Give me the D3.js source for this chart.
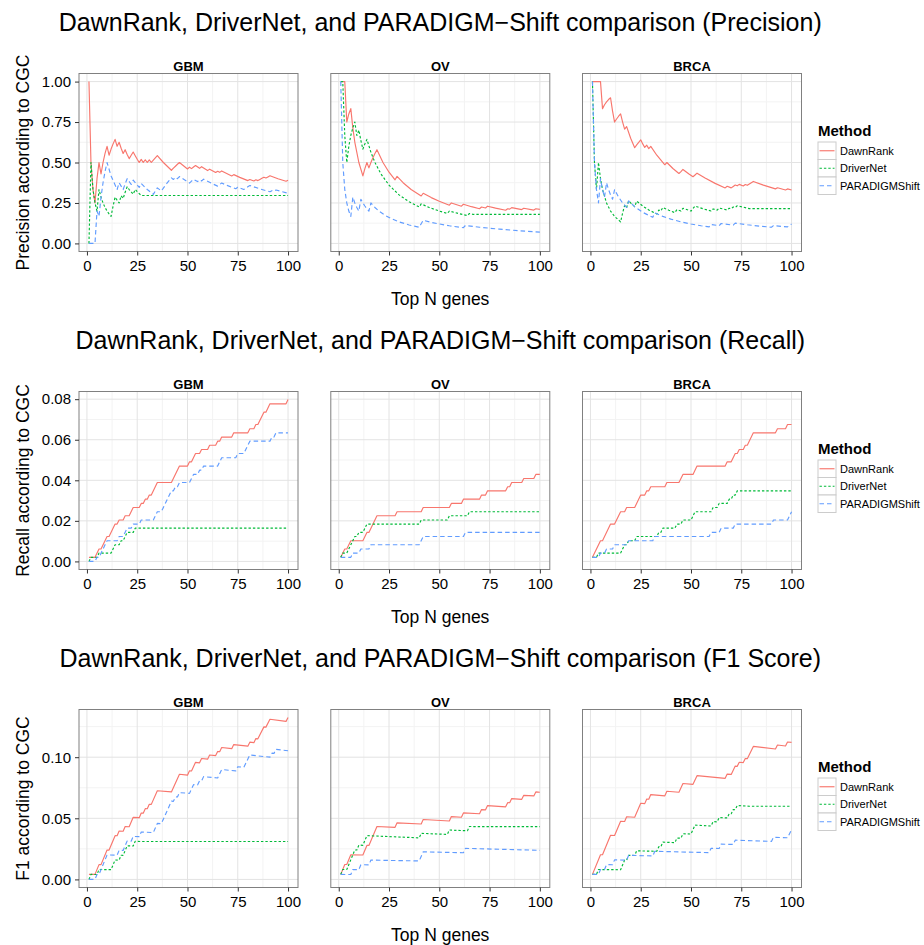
<!DOCTYPE html>
<html><head><meta charset="utf-8">
<script src="https://cdn.jsdelivr.net/npm/d3@7"></script>
<style>
body{margin:0;background:#fff}
svg text{font-family:"Liberation Sans",Arial,Helvetica,sans-serif}
</style>
</head><body>
<svg id="chart" width="924" height="945"></svg>
<script>
// ---------- categories & labels ----------
const cancers = ["GBM","OV","BRCA"];
const methods = ["DawnRank","DriverNet","PARADIGMShift"];
const metrics = ["Precision","Recall","F1 Score"];
const yTitles = ["Precision according to CGC","Recall according to CGC","F1 according to CGC"];
const xTitle = "Top N genes";
const xTicks = [0,25,50,75,100];
const xTickLabels = ["0","25","50","75","100"];
const precisionTicks = [0,0.25,0.5,0.75,1];
const precisionTickLabels = ["0.00","0.25","0.50","0.75","1.00"];
const recallTicks = [0,0.02,0.04,0.06,0.08];
const recallTickLabels = ["0.00","0.02","0.04","0.06","0.08"];
const f1Ticks = [0,0.05,0.10];
const f1TickLabels = ["0.00","0.05","0.10"];

// ---------- series values: [top N, value] ----------
// Precision
const precisionGBMDawnRank = [[1,1.000],[2,0.500],[3,0.333],[4,0.250],[5,0.400],[6,0.500],[7,0.429],[8,0.500],[9,0.556],[10,0.600],[11,0.545],[12,0.583],[13,0.615],[14,0.643],[15,0.600],[16,0.625],[17,0.588],[18,0.556],[19,0.579],[20,0.550],[21,0.524],[22,0.545],[23,0.565],[24,0.542],[25,0.520],[26,0.500],[27,0.519],[28,0.500],[29,0.517],[30,0.500],[31,0.516],[32,0.500],[33,0.515],[34,0.529],[35,0.543],[38,0.500],[42,0.452],[43,0.465],[44,0.477],[45,0.489],[46,0.500],[50,0.460],[51,0.471],[52,0.462],[53,0.472],[54,0.481],[56,0.464],[57,0.474],[60,0.450],[61,0.459],[64,0.438],[65,0.446],[66,0.439],[67,0.448],[72,0.417],[73,0.425],[76,0.408],[80,0.388],[81,0.395],[83,0.386],[84,0.393],[85,0.388],[86,0.395],[87,0.402],[88,0.409],[89,0.404],[90,0.411],[91,0.418],[95,0.400],[99,0.384],[100,0.390]];
const precisionGBMDriverNet = [[1,0],[2,0.5],[3,0.333],[4,0.25],[5,0.2],[6,0.333],[7,0.286],[8,0.25],[9,0.222],[10,0.2],[11,0.182],[12,0.167],[13,0.231],[14,0.286],[15,0.267],[16,0.25],[17,0.294],[18,0.278],[19,0.316],[20,0.35],[21,0.333],[22,0.318],[23,0.304],[24,0.333],[25,0.32],[26,0.308],[27,0.296],[100,0.296]];
const precisionGBMPARADIGMShift = [[1,0],[4,0],[5,0.2],[6,0.167],[7,0.286],[8,0.375],[9,0.444],[10,0.5],[12,0.417],[15,0.333],[16,0.375],[18,0.333],[19,0.368],[20,0.4],[22,0.364],[23,0.391],[26,0.346],[27,0.37],[30,0.333],[33,0.303],[34,0.324],[35,0.343],[37,0.324],[38,0.342],[39,0.359],[40,0.375],[41,0.39],[42,0.405],[43,0.395],[44,0.409],[45,0.4],[46,0.413],[51,0.373],[52,0.385],[53,0.396],[55,0.382],[56,0.393],[57,0.386],[58,0.397],[62,0.371],[65,0.354],[66,0.364],[67,0.373],[70,0.357],[74,0.338],[75,0.347],[78,0.333],[79,0.342],[80,0.35],[81,0.358],[86,0.337],[91,0.319],[92,0.326],[93,0.323],[94,0.33],[97,0.32],[100,0.31]];
const precisionOVDawnRank = [[1,1],[3,1],[4,0.75],[5,0.8],[6,0.833],[7,0.714],[8,0.625],[10,0.5],[12,0.417],[13,0.462],[14,0.5],[15,0.467],[16,0.5],[17,0.529],[18,0.556],[19,0.579],[22,0.5],[25,0.44],[28,0.393],[29,0.414],[32,0.375],[36,0.333],[41,0.293],[42,0.31],[46,0.283],[50,0.26],[55,0.236],[56,0.25],[61,0.23],[62,0.242],[66,0.227],[70,0.214],[71,0.225],[73,0.219],[74,0.23],[78,0.218],[83,0.205],[84,0.214],[85,0.212],[86,0.221],[91,0.209],[92,0.217],[97,0.206],[98,0.214],[100,0.21]];
const precisionOVDriverNet = [[1,1],[2,1],[3,0.667],[4,0.5],[5,0.6],[6,0.667],[7,0.714],[8,0.75],[9,0.667],[10,0.7],[11,0.636],[12,0.583],[13,0.615],[14,0.643],[16,0.563],[18,0.5],[21,0.429],[25,0.36],[30,0.3],[35,0.257],[40,0.225],[41,0.244],[45,0.222],[50,0.2],[54,0.185],[55,0.2],[60,0.183],[64,0.172],[65,0.185],[67,0.179],[100,0.179]];
const precisionOVPARADIGMShift = [[1,1],[2,0.5],[3,0.333],[4,0.25],[5,0.2],[6,0.167],[7,0.286],[8,0.25],[9,0.222],[10,0.2],[11,0.273],[12,0.25],[13,0.231],[14,0.214],[15,0.2],[16,0.25],[18,0.222],[20,0.2],[23,0.174],[26,0.154],[30,0.133],[35,0.114],[40,0.1],[41,0.122],[42,0.143],[46,0.13],[50,0.12],[55,0.109],[62,0.097],[63,0.111],[70,0.1],[80,0.088],[90,0.078],[100,0.07]];
const precisionBRCADawnRank = [[1,1],[5,1],[6,0.833],[7,0.857],[8,0.875],[9,0.889],[10,0.9],[11,0.818],[12,0.75],[13,0.769],[14,0.786],[15,0.8],[16,0.75],[17,0.706],[18,0.722],[20,0.65],[22,0.591],[23,0.609],[24,0.625],[25,0.64],[26,0.615],[27,0.593],[28,0.607],[29,0.586],[30,0.6],[33,0.545],[37,0.486],[38,0.5],[41,0.463],[44,0.432],[45,0.444],[46,0.457],[49,0.429],[51,0.412],[52,0.423],[53,0.434],[57,0.404],[62,0.371],[67,0.343],[68,0.353],[70,0.343],[71,0.352],[72,0.361],[73,0.356],[74,0.365],[76,0.355],[77,0.364],[78,0.359],[79,0.367],[80,0.375],[81,0.383],[86,0.36],[92,0.337],[93,0.344],[97,0.33],[98,0.337],[100,0.33]];
const precisionBRCADriverNet = [[1,1],[2,0.5],[3,0.333],[4,0.5],[5,0.4],[6,0.333],[8,0.25],[10,0.2],[12,0.167],[15,0.133],[16,0.188],[17,0.235],[18,0.222],[19,0.263],[20,0.25],[22,0.227],[23,0.261],[26,0.231],[29,0.207],[33,0.182],[34,0.206],[35,0.2],[36,0.222],[39,0.205],[42,0.19],[43,0.209],[45,0.2],[46,0.217],[50,0.2],[51,0.216],[52,0.231],[56,0.214],[60,0.2],[61,0.213],[63,0.206],[64,0.219],[68,0.206],[69,0.217],[70,0.214],[71,0.225],[72,0.222],[73,0.233],[76,0.224],[79,0.215],[100,0.215]];
const precisionBRCAPARADIGMShift = [[1,1],[2,0.5],[3,0.333],[4,0.25],[5,0.4],[6,0.333],[7,0.286],[8,0.375],[9,0.333],[10,0.3],[11,0.273],[12,0.333],[14,0.286],[16,0.25],[18,0.222],[19,0.263],[22,0.227],[26,0.192],[31,0.161],[32,0.188],[36,0.167],[40,0.15],[45,0.133],[50,0.12],[55,0.109],[59,0.102],[60,0.117],[64,0.109],[65,0.123],[71,0.113],[72,0.125],[78,0.115],[84,0.107],[90,0.1],[91,0.11],[95,0.105],[98,0.102],[99,0.111],[100,0.12]];

// Recall
const recallGBMDawnRank = [[1,.0020],[4,.0020],[6,.0061],[7,.0061],[10,.0123],[11,.0123],[14,.0184],[15,.0184],[16,.0204],[18,.0204],[19,.0225],[21,.0225],[23,.0266],[26,.0266],[27,.0286],[28,.0286],[29,.0307],[30,.0307],[31,.0327],[32,.0327],[35,.0389],[42,.0389],[46,.0470],[50,.0470],[51,.0491],[52,.0491],[54,.0532],[56,.0532],[57,.0552],[60,.0552],[61,.0573],[64,.0573],[65,.0593],[66,.0593],[67,.0613],[72,.0613],[73,.0634],[80,.0634],[81,.0654],[83,.0654],[84,.0675],[85,.0675],[88,.0736],[89,.0736],[91,.0777],[99,.0777],[100,.0798]];
const recallGBMDriverNet = [[1,0],[2,.0020],[5,.0020],[6,.0041],[12,.0041],[14,.0082],[16,.0082],[17,.0102],[18,.0102],[20,.0143],[23,.0143],[24,.0164],[100,.0164]];
const recallGBMPARADIGMShift = [[1,0],[4,0],[5,.0020],[6,.0020],[10,.0102],[15,.0102],[16,.0123],[18,.0123],[20,.0164],[22,.0164],[23,.0184],[26,.0184],[27,.0204],[33,.0204],[35,.0245],[37,.0245],[42,.0348],[43,.0348],[44,.0368],[45,.0368],[46,.0389],[51,.0389],[53,.0429],[55,.0429],[56,.0450],[57,.0450],[58,.0470],[65,.0470],[67,.0511],[74,.0511],[75,.0532],[78,.0532],[81,.0593],[91,.0593],[92,.0613],[93,.0613],[94,.0634],[100,.0634]];
const recallOVDawnRank = [[1,.0020],[3,.0061],[4,.0061],[6,.0102],[12,.0102],[14,.0143],[15,.0143],[19,.0225],[28,.0225],[29,.0245],[41,.0245],[42,.0266],[55,.0266],[56,.0286],[61,.0286],[62,.0307],[70,.0307],[71,.0327],[73,.0327],[74,.0348],[83,.0348],[84,.0368],[85,.0368],[86,.0389],[91,.0389],[92,.0409],[97,.0409],[98,.0429],[100,.0429]];
const recallOVDriverNet = [[1,.0020],[2,.0041],[4,.0041],[8,.0123],[9,.0123],[10,.0143],[12,.0143],[14,.0184],[40,.0184],[41,.0204],[54,.0204],[55,.0225],[64,.0225],[65,.0245],[100,.0245]];
const recallOVPARADIGMShift = [[1,.0020],[6,.0020],[7,.0041],[10,.0041],[11,.0061],[15,.0061],[16,.0082],[40,.0082],[42,.0123],[62,.0123],[63,.0143],[100,.0143]];
const recallBRCADawnRank = [[1,.0020],[5,.0102],[6,.0102],[10,.0184],[12,.0184],[15,.0245],[17,.0245],[18,.0266],[22,.0266],[25,.0327],[27,.0327],[28,.0348],[29,.0348],[30,.0368],[37,.0368],[38,.0389],[44,.0389],[46,.0429],[51,.0429],[53,.0470],[67,.0470],[68,.0491],[70,.0491],[72,.0532],[73,.0532],[74,.0552],[76,.0552],[77,.0573],[78,.0573],[81,.0634],[92,.0634],[93,.0654],[97,.0654],[98,.0675],[100,.0675]];
const recallBRCADriverNet = [[1,.0020],[3,.0020],[4,.0041],[15,.0041],[17,.0082],[18,.0082],[19,.0102],[22,.0102],[23,.0123],[33,.0123],[34,.0143],[35,.0143],[36,.0164],[42,.0164],[43,.0184],[45,.0184],[46,.0204],[50,.0204],[52,.0245],[60,.0245],[61,.0266],[63,.0266],[64,.0286],[68,.0286],[69,.0307],[70,.0307],[71,.0327],[72,.0327],[73,.0348],[100,.0348]];
const recallBRCAPARADIGMShift = [[1,.0020],[4,.0020],[5,.0041],[7,.0041],[8,.0061],[11,.0061],[12,.0082],[18,.0082],[19,.0102],[31,.0102],[32,.0123],[59,.0123],[60,.0143],[64,.0143],[65,.0164],[71,.0164],[72,.0184],[90,.0184],[91,.0204],[98,.0204],[100,.0245]];

// F1 score
const f1GBMDawnRank = [[1,.0041],[4,.0041],[6,.0121],[7,.0121],[10,.0240],[11,.0240],[14,.0358],[15,.0357],[16,.0396],[18,.0394],[19,.0433],[21,.0431],[23,.0508],[26,.0505],[27,.0543],[28,.0542],[29,.0579],[30,.0578],[31,.0615],[32,.0614],[35,.0725],[42,.0716],[46,.0860],[50,.0853],[51,.0889],[52,.0887],[54,.0958],[56,.0954],[57,.0989],[60,.0984],[61,.1018],[64,.1013],[65,.1047],[66,.1045],[67,.1079],[72,.1070],[73,.1103],[80,.1090],[81,.1123],[83,.1119],[84,.1152],[85,.1150],[88,.1248],[89,.1246],[91,.1310],[99,.1293],[100,.1324]];
const f1GBMDriverNet = [[1,0],[2,.0041],[5,.0040],[6,.0081],[12,.0080],[14,.0159],[16,.0158],[17,.0198],[18,.0197],[20,.0275],[23,.0273],[24,.0312],[27,.0310],[100,.0310]];
const f1GBMPARADIGMShift = [[1,0],[4,0],[5,.0040],[6,.0040],[10,.0200],[15,.0198],[16,.0238],[18,.0237],[20,.0314],[22,.0313],[23,.0352],[26,.0350],[27,.0388],[33,.0383],[35,.0458],[37,.0456],[42,.0640],[43,.0639],[44,.0675],[45,.0674],[46,.0710],[51,.0704],[53,.0775],[55,.0772],[56,.0807],[57,.0806],[58,.0841],[65,.0830],[67,.0899],[74,.0888],[75,.0922],[78,.0917],[81,.1018],[91,.1000],[92,.1033],[93,.1031],[94,.1064],[100,.1053]];
const f1OVDawnRank = [[1,.0041],[3,.0122],[4,.0122],[6,.0202],[12,.0200],[14,.0278],[15,.0278],[19,.0433],[28,.0426],[29,.0463],[41,.0453],[42,.0490],[55,.0478],[56,.0514],[61,.0509],[62,.0544],[70,.0537],[71,.0571],[73,.0569],[74,.0604],[83,.0594],[84,.0628],[85,.0627],[86,.0661],[91,.0655],[92,.0688],[97,.0683],[98,.0716],[100,.0713]];
const f1OVDriverNet = [[1,.0041],[2,.0081],[4,.0081],[8,.0241],[9,.0241],[10,.0281],[12,.0279],[14,.0358],[40,.0340],[41,.0377],[54,.0368],[55,.0404],[64,.0398],[65,.0433],[67,.0432],[100,.0432]];
const f1OVPARADIGMShift = [[1,.0041],[6,.0040],[7,.0081],[10,.0080],[11,.0120],[15,.0119],[16,.0158],[40,.0151],[42,.0226],[62,.0218],[63,.0254],[100,.0238]];
const f1BRCADawnRank = [[1,.0041],[5,.0202],[6,.0202],[10,.0361],[12,.0359],[15,.0476],[17,.0474],[18,.0513],[22,.0509],[25,.0623],[27,.0620],[28,.0658],[29,.0656],[30,.0694],[37,.0684],[38,.0721],[44,.0713],[46,.0785],[51,.0778],[53,.0849],[67,.0827],[68,.0862],[70,.0859],[72,.0927],[73,.0925],[74,.0959],[76,.0956],[77,.0989],[78,.0988],[81,.1088],[92,.1067],[93,.1100],[97,.1092],[98,.1124],[100,.1121]];
const f1BRCADriverNet = [[1,.0041],[3,.0041],[4,.0081],[15,.0079],[17,.0158],[18,.0158],[19,.0197],[22,.0196],[23,.0234],[33,.0230],[34,.0268],[35,.0267],[36,.0305],[42,.0301],[43,.0338],[45,.0337],[46,.0374],[50,.0371],[52,.0444],[60,.0437],[61,.0473],[63,.0471],[64,.0506],[68,.0503],[69,.0538],[70,.0537],[71,.0571],[72,.0570],[73,.0605],[79,.0599],[100,.0599]];
const f1BRCAPARADIGMShift = [[1,.0041],[4,.0041],[5,.0081],[7,.0081],[8,.0121],[11,.0120],[12,.0160],[18,.0158],[19,.0197],[31,.0192],[32,.0230],[59,.0219],[60,.0255],[64,.0253],[65,.0289],[71,.0286],[72,.0321],[90,.0311],[91,.0345],[98,.0341],[100,.0408]];

// ---------- lookup table built from the arrays ----------
const seriesTable = [
  { GBM:{DawnRank:precisionGBMDawnRank,DriverNet:precisionGBMDriverNet,PARADIGMShift:precisionGBMPARADIGMShift},
    OV:{DawnRank:precisionOVDawnRank,DriverNet:precisionOVDriverNet,PARADIGMShift:precisionOVPARADIGMShift},
    BRCA:{DawnRank:precisionBRCADawnRank,DriverNet:precisionBRCADriverNet,PARADIGMShift:precisionBRCAPARADIGMShift} },
  { GBM:{DawnRank:recallGBMDawnRank,DriverNet:recallGBMDriverNet,PARADIGMShift:recallGBMPARADIGMShift},
    OV:{DawnRank:recallOVDawnRank,DriverNet:recallOVDriverNet,PARADIGMShift:recallOVPARADIGMShift},
    BRCA:{DawnRank:recallBRCADawnRank,DriverNet:recallBRCADriverNet,PARADIGMShift:recallBRCAPARADIGMShift} },
  { GBM:{DawnRank:f1GBMDawnRank,DriverNet:f1GBMDriverNet,PARADIGMShift:f1GBMPARADIGMShift},
    OV:{DawnRank:f1OVDawnRank,DriverNet:f1OVDriverNet,PARADIGMShift:f1OVPARADIGMShift},
    BRCA:{DawnRank:f1BRCADawnRank,DriverNet:f1BRCADriverNet,PARADIGMShift:f1BRCAPARADIGMShift} }
];
const rowTicks = [precisionTicks, recallTicks, f1Ticks];
const rowTickLabels = [precisionTickLabels, recallTickLabels, f1TickLabels];

// ---------- styles ----------
const colors = {DawnRank:"#F8766D", DriverNet:"#00BA38", PARADIGMShift:"#619CFF"};
const dashes = {DawnRank:null, DriverNet:"2.4,2", PARADIGMShift:"4.5,3"};

// ---------- layout ----------
const svg = d3.select("#chart");
const panelLefts = [79, 330.8, 582.5];
const panelW = 219, panelH = 178, panelTop = 73.5;
const rowOffsets = [0, 318, 636];
const centerX = (panelLefts[0] + panelLefts[2] + panelW) / 2;

const x = d3.scaleLinear().domain([1 - 0.05*99, 100 + 0.05*99]).range([0, panelW]);

metrics.forEach((metric, r) => {
  const g = svg.append("g").attr("transform", `translate(0,${rowOffsets[r]})`);
  const tbl = seriesTable[r];
  const allVals = [];
  cancers.forEach(c => methods.forEach(m => tbl[c][m].forEach(d => allVals.push(d[1]))));
  const lo = d3.min(allVals), hi = d3.max(allVals), span = hi - lo;
  const y = d3.scaleLinear().domain([lo - 0.05*span, hi + 0.05*span]).range([panelH, 0]);
  const ticks = rowTicks[r], labels = rowTickLabels[r];
  const step = ticks[1] - ticks[0];
  const yMinor = [];
  for (let i = 0; i < ticks.length; i++) {
    const v = ticks[i] + step/2;
    if (v >= y.domain()[0] && v <= y.domain()[1]) yMinor.push(v);
  }
  const xMinor = xTicks.slice(0, -1).map((t, i) => (t + xTicks[i+1]) / 2);

  // main title
  g.append("text").attr("x", centerX).attr("y", 31).attr("text-anchor", "middle")
    .attr("font-size", "25px").attr("fill", "#000")
    .text(`DawnRank, DriverNet, and PARADIGM\u2212Shift comparison (${metric})`);

  // y title
  g.append("text").attr("transform", `translate(29,${panelTop + panelH/2}) rotate(-90)`)
    .attr("text-anchor", "middle").attr("font-size", "17.5px").attr("fill", "#000")
    .text(yTitles[r]);

  // x title
  g.append("text").attr("x", centerX).attr("y", 305).attr("text-anchor", "middle")
    .attr("font-size", "17.5px").attr("fill", "#000").text(xTitle);

  const line = d3.line().x(d => x(d[0])).y(d => y(d[1]));

  cancers.forEach((c, i) => {
    const p = g.append("g").attr("transform", `translate(${panelLefts[i]},${panelTop})`);
    p.append("rect").attr("width", panelW).attr("height", panelH).attr("fill", "#fff");
    // minor grid
    p.selectAll(".xmin").data(xMinor).enter().append("line")
      .attr("x1", d => x(d)).attr("x2", d => x(d)).attr("y1", 0).attr("y2", panelH)
      .attr("stroke", "#f3f3f3").attr("stroke-width", 1);
    p.selectAll(".ymin").data(yMinor).enter().append("line")
      .attr("y1", d => y(d)).attr("y2", d => y(d)).attr("x1", 0).attr("x2", panelW)
      .attr("stroke", "#f3f3f3").attr("stroke-width", 1);
    // major grid
    p.selectAll(".xmaj").data(xTicks).enter().append("line")
      .attr("x1", d => x(d)).attr("x2", d => x(d)).attr("y1", 0).attr("y2", panelH)
      .attr("stroke", "#e3e3e3").attr("stroke-width", 1);
    p.selectAll(".ymaj").data(ticks).enter().append("line")
      .attr("y1", d => y(d)).attr("y2", d => y(d)).attr("x1", 0).attr("x2", panelW)
      .attr("stroke", "#e3e3e3").attr("stroke-width", 1);
    // series
    methods.forEach(m => {
      p.append("path").datum(tbl[c][m]).attr("d", line)
        .attr("fill", "none").attr("stroke", colors[m]).attr("stroke-width", 1.15)
        .attr("stroke-linejoin", "round")
        .attr("stroke-dasharray", dashes[m]);
    });
    // border
    p.append("rect").attr("width", panelW).attr("height", panelH)
      .attr("fill", "none").attr("stroke", "#808080").attr("stroke-width", 1);
    // strip label
    p.append("text").attr("x", panelW/2).attr("y", -3).attr("text-anchor", "middle")
      .attr("font-size", "13px").attr("font-weight", "bold").attr("fill", "#000").text(c);
    // x axis
    const xa = p.append("g").attr("transform", `translate(0,${panelH})`)
      .call(d3.axisBottom(x).tickValues(xTicks).tickSize(4).tickPadding(5)
        .tickFormat((d, k) => xTickLabels[k]));
    xa.select(".domain").remove();
    xa.selectAll("line").attr("stroke", "#333");
    xa.selectAll("text").attr("font-size", "15px").attr("fill", "#000")
      .attr("font-family", '"Liberation Sans",Arial,sans-serif');
    // y axis (first facet only)
    if (i === 0) {
      const ya = p.append("g")
        .call(d3.axisLeft(y).tickValues(ticks).tickSize(4).tickPadding(4)
          .tickFormat((d, k) => labels[k]));
      ya.select(".domain").remove();
      ya.selectAll("line").attr("stroke", "#333");
      ya.selectAll("text").attr("font-size", "15px").attr("fill", "#000")
        .attr("font-family", '"Liberation Sans",Arial,sans-serif');
    }
  });

  // legend
  const lg = g.append("g");
  lg.append("text").attr("x", 818).attr("y", 136).attr("font-size", "15px")
    .attr("font-weight", "bold").attr("fill", "#000").text("Method");
  methods.forEach((m, k) => {
    const ky = 142 + k*17.5;
    lg.append("rect").attr("x", 818).attr("y", ky).attr("width", 18).attr("height", 17.5)
      .attr("fill", "#fff").attr("stroke", "#cccccc").attr("stroke-width", 1);
    lg.append("line").attr("x1", 819.5).attr("x2", 834.5).attr("y1", ky + 8.75).attr("y2", ky + 8.75)
      .attr("stroke", colors[m]).attr("stroke-width", 1.15).attr("stroke-dasharray", dashes[m]);
    lg.append("text").attr("x", 840).attr("y", ky + 12.6).attr("font-size", "11px")
      .attr("fill", "#000").text(m);
  });
});
</script>
</body></html>
